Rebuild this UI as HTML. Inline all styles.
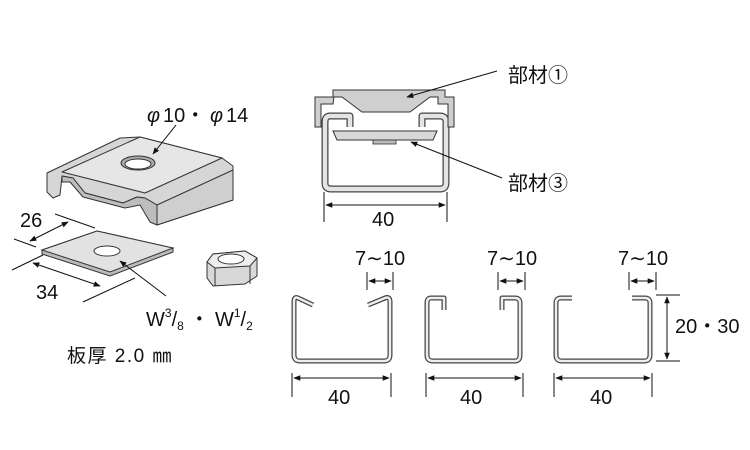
<!DOCTYPE html>
<html><head><meta charset="utf-8"><style>
html,body{margin:0;padding:0;background:#fff;}
svg{display:block;}
text{font-family:"Liberation Sans","Noto Sans CJK JP",sans-serif;fill:#111;}
</style></head><body>
<svg width="750" height="450" viewBox="0 0 750 450" xmlns="http://www.w3.org/2000/svg">
<defs>
<marker id="a" viewBox="0 0 10 10" refX="9" refY="5" markerWidth="7" markerHeight="7" orient="auto-start-reverse"><path d="M0,1 L10,5 L0,9 z" fill="#111"/></marker>
</defs>

<!-- Left bracket -->
<g stroke="#333" stroke-width="1" stroke-linejoin="round">
<polygon points="47,173 120,138 140,137 222,158 233,166 233,200 157,225 157,205 145,198 137,197 123,203 85,193 73,178 62,176 60,195 53,198 47,192" fill="#d6d6d6"/>
<polygon points="62,172 140,137 222,158 145,193" fill="#e6e6e6"/>
<polygon points="157,205 233,170 233,200 157,225" fill="#cfcfcf"/>
<polygon points="62,176 73,178 85,193 123,203 137,197 145,198 157,205 157,225 150,222 140,205 125,208 83,197 70,182 62,182" fill="#bdbdbd"/>
<ellipse cx="138" cy="163" rx="17" ry="7" fill="#aaa"/>
<ellipse cx="138" cy="164" rx="13" ry="5" fill="#fff"/>
</g>
<text x="147" y="122" font-size="20" font-style="italic">φ</text>
<text x="163" y="122" font-size="20">10・</text>
<text x="210" y="122" font-size="20" font-style="italic">φ</text>
<text x="226" y="122" font-size="20">14</text>
<line x1="176" y1="125" x2="153" y2="154" stroke="#111" marker-end="url(#a)"/>

<!-- washer -->
<g stroke="#333" stroke-width="1">
<polygon points="42,250 97,231 173,248 173,252 110,276 42,254" fill="#bbb"/>
<polygon points="42,250 97,231 173,248 110,272" fill="#e2e2e2"/>
<ellipse cx="107" cy="251" rx="13" ry="5" fill="#fff"/>
</g>
<!-- nut -->
<g stroke="#333" stroke-width="1">
<polygon points="207,262 213,254 245,251 257,258 257,276 245,284 213,286 207,278" fill="#d8d8d8"/>
<polygon points="207,262 213,254 245,251 257,258 250,266 215,268" fill="#eee"/>
<ellipse cx="231" cy="259" rx="13" ry="5" fill="#fff"/>
<line x1="215" y1="268" x2="215" y2="286"/><line x1="250" y1="266" x2="250" y2="284"/>
</g>
<!-- dims left -->
<g stroke="#111" stroke-width="1">
<line x1="14" y1="239" x2="36" y2="247"/>
<line x1="55" y1="214" x2="95" y2="228"/>
<line x1="30" y1="241" x2="68" y2="222" marker-start="url(#a)" marker-end="url(#a)"/>
<line x1="12" y1="270" x2="43" y2="255"/>
<line x1="83" y1="302" x2="135" y2="278"/>
<line x1="33" y1="263" x2="100" y2="286" marker-start="url(#a)" marker-end="url(#a)"/>
<line x1="166" y1="296" x2="120" y2="261" marker-end="url(#a)"/>
</g>
<text x="20" y="227" font-size="20">26</text>
<text x="36" y="299" font-size="20">34</text>
<text x="146" y="326" font-size="20">W<tspan font-size="12" dy="-9">3</tspan><tspan dy="9">/</tspan><tspan font-size="12" dy="4">8</tspan><tspan dy="-4"> ・ W</tspan><tspan font-size="12" dy="-9">1</tspan><tspan dy="9">/</tspan><tspan font-size="12" dy="4">2</tspan></text>
<text x="67" y="362" font-size="19" letter-spacing="1.5">板厚 2.0 ㎜</text>

<!-- top middle assembly -->
<path d="M350,127 V116 H330 Q325,116 325,122 V183 Q325,189 331,189 H440 Q446,189 446,183 V122 Q446,116 440,116 H422 V127" fill="none" stroke="#444" stroke-width="7" stroke-linejoin="round"/>
<path d="M350,127 V116 H330 Q325,116 325,122 V183 Q325,189 331,189 H440 Q446,189 446,183 V122 Q446,116 440,116 H422 V127" fill="none" stroke="#e4e4e4" stroke-width="4.5" stroke-linejoin="round"/>
<polygon points="315,97 333,97 333,90 445,90 445,97 454,97 454,127 448,127 448,104 438,104 438,97 430,97 410,112 362,112 342,97 334,97 333,104 321,104 321,127 315,127" fill="#cfcfcf" stroke="#333" stroke-width="1"/>
<polygon points="333,131 437,131 433,140 337,140" fill="#d8d8d8" stroke="#333" stroke-width="1"/>
<rect x="373" y="140" width="23" height="4" fill="#bbb" stroke="#333" stroke-width="0.8"/>
<g stroke="#111" stroke-width="1">
<line x1="497" y1="71" x2="407" y2="97" marker-end="url(#a)"/>
<line x1="502" y1="178" x2="411" y2="142" marker-end="url(#a)"/>
<line x1="324" y1="192" x2="324" y2="222"/><line x1="447" y1="192" x2="447" y2="222"/>
<line x1="326" y1="205" x2="445" y2="205" marker-start="url(#a)" marker-end="url(#a)"/>
</g>
<text x="508" y="82" font-size="20">部材①</text>
<text x="508" y="190" font-size="20">部材③</text>
<text x="372" y="226" font-size="20">40</text>

<!-- channels -->
<g fill="none" stroke-linejoin="round">
<path d="M313,305 L298,298 Q294,296 294,302 V355 Q294,361 300,361 H384 Q390,361 390,355 V302 Q390,296 385,298 L368,305" stroke="#444" stroke-width="5"/>
<path d="M313,305 L298,298 Q294,296 294,302 V355 Q294,361 300,361 H384 Q390,361 390,355 V302 Q390,296 385,298 L368,305" stroke="#eee" stroke-width="2.5"/>
<path d="M444,310 V298 H431 Q427,298 427,303 V355 Q427,361 433,361 H515 Q520,361 520,355 V303 Q520,298 515,298 H502 V310" stroke="#444" stroke-width="5"/>
<path d="M444,310 V298 H431 Q427,298 427,303 V355 Q427,361 433,361 H515 Q520,361 520,355 V303 Q520,298 515,298 H502 V310" stroke="#eee" stroke-width="2.5"/>
<path d="M572,298 H561 Q556,298 556,303 V355 Q556,361 562,361 H644 Q650,361 650,355 V303 Q650,298 645,298 H632" stroke="#444" stroke-width="5"/>
<path d="M572,298 H561 Q556,298 556,303 V355 Q556,361 562,361 H644 Q650,361 650,355 V303 Q650,298 645,298 H632" stroke="#eee" stroke-width="2.5"/>
</g>
<g stroke="#111" stroke-width="1">
<line x1="292" y1="373" x2="292" y2="397"/><line x1="391" y1="373" x2="391" y2="397"/>
<line x1="294" y1="378" x2="389" y2="378" marker-start="url(#a)" marker-end="url(#a)"/>
<line x1="426" y1="373" x2="426" y2="397"/><line x1="523" y1="373" x2="523" y2="397"/>
<line x1="428" y1="378" x2="521" y2="378" marker-start="url(#a)" marker-end="url(#a)"/>
<line x1="554" y1="373" x2="554" y2="397"/><line x1="652" y1="373" x2="652" y2="397"/>
<line x1="556" y1="378" x2="650" y2="378" marker-start="url(#a)" marker-end="url(#a)"/>
<line x1="367" y1="272" x2="367" y2="290"/><line x1="393" y1="272" x2="393" y2="290"/>
<line x1="369" y1="281" x2="391" y2="281" marker-start="url(#a)" marker-end="url(#a)"/>
<line x1="498" y1="272" x2="498" y2="290"/><line x1="525" y1="272" x2="525" y2="290"/>
<line x1="500" y1="281" x2="523" y2="281" marker-start="url(#a)" marker-end="url(#a)"/>
<line x1="629" y1="272" x2="629" y2="290"/><line x1="656" y1="272" x2="656" y2="290"/>
<line x1="631" y1="281" x2="654" y2="281" marker-start="url(#a)" marker-end="url(#a)"/>
<line x1="656" y1="295" x2="680" y2="295"/><line x1="656" y1="361" x2="680" y2="361"/>
<line x1="667" y1="297" x2="667" y2="359" marker-start="url(#a)" marker-end="url(#a)"/>
</g>
<g font-size="20">
<text x="328" y="404">40</text><text x="460" y="404">40</text><text x="590" y="404">40</text>
<text x="355" y="265">7∼10</text><text x="487" y="265">7∼10</text><text x="618" y="265">7∼10</text>
<text x="675" y="333">20・30</text>
</g>
</svg>
</body></html>
